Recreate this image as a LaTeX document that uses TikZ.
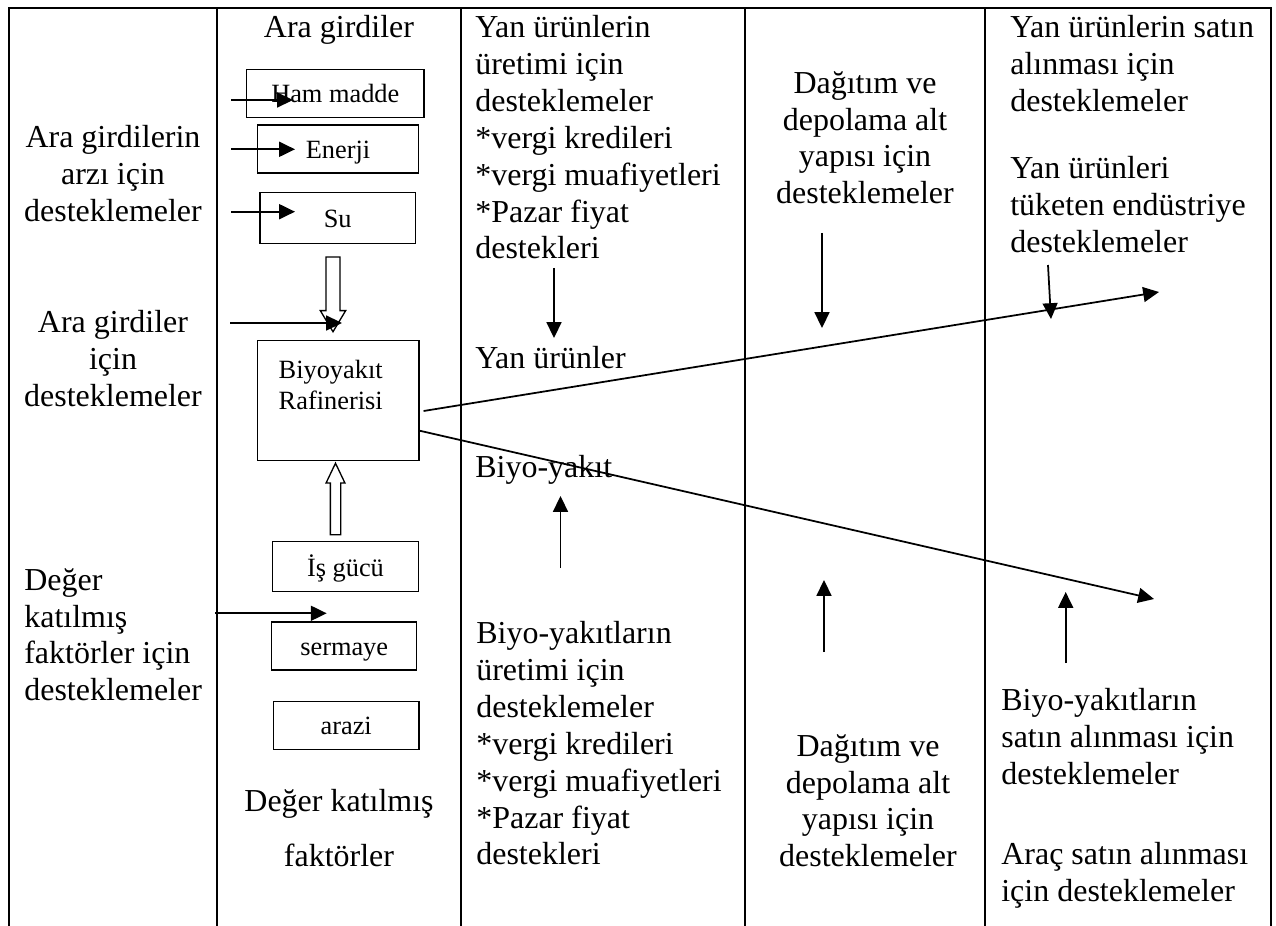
\documentclass[tikz,border=0pt]{standalone}
\usepackage{fontspec}
\setmainfont{Liberation Serif}
\usetikzlibrary{positioning, arrows.meta, shapes.arrows, calc}
\newcommand{\cellfont}{\fontsize{18.2}{21}\selectfont}
\newcommand{\boxfont}{\fontsize{15}{18}\selectfont}

\begin{document}
\begin{tikzpicture}[
  x=0.02cm, y=-0.02cm,
  >={Triangle[length=9pt, width=8.5pt]},
  grid/.style={line width=1.1pt},
  flow/.style={->, line width=1pt},
  cell/.style={inner sep=0pt, font=\cellfont},
  inbox/.style={draw, line width=0.75pt, inner sep=0pt, font=\boxfont,
                align=center, minimum height=0.96cm, text height=14pt, text depth=3pt},
  hollow/.style={draw, fill=white, line width=0.75pt, single arrow, anchor=tip},
]
  \useasboundingbox (0,0) rectangle (1276,926);

  % Table frame and column lines
  \draw[grid] (9,926) |- (1271,8) -- (1271,926);
  \foreach \xc in {217, 461, 745, 985}
    \draw[grid] (\xc,8) -- (\xc,926);

  % Column 1: supports for inputs and factors
  \node[cell, anchor=north, align=center] (araArz) at (113,125)
    {Ara girdilerin\\arzı için\\desteklemeler};
  \node[cell, anchor=north, align=center] (araDest) at (113,310)
    {Ara girdiler\\için\\desteklemeler};
  \node[cell, anchor=north west, align=left] (degerDest) at (24,568)
    {Değer\\katılmış\\faktörler için\\desteklemeler};

  % Column 2: inputs, refinery, factors
  \node[cell, anchor=north] (araTitle) at (339,15) {Ara girdiler};
  \node[inbox, minimum width=3.55cm] (ham) at (335.3,93.3) {Ham madde};
  \node[inbox, minimum width=3.23cm] (enerji) at (338,149) {Enerji};
  \node[inbox, minimum width=3.11cm, minimum height=1.01cm] (su) at (337.7,218) {Su};
  \node[inbox, minimum width=3.23cm, minimum height=2.4cm,
        label={[font=\boxfont, align=center, inner sep=0pt, anchor=north,
                xshift=-0.15cm, yshift=-0.39cm]north:{Biyoyakıt\\Rafinerisi}}]
        (raf) at (338.2,400.7) {};
  \node[inbox, minimum width=2.91cm, minimum height=1cm] (isgucu) at (345.5,566.7) {İş gücü};
  \node[inbox, minimum width=2.9cm] (sermaye) at (344.2,646) {sermaye};
  \node[inbox, minimum width=2.91cm] (arazi) at (346.2,725.2) {arazi};
  \node[cell, anchor=north, align=center] (degerTitle) at (339,789)
    {Değer katılmış\\[10pt]faktörler};

  % Hollow arrows into the refinery
  \node[hollow, shape border rotate=270, minimum height=1.494cm, inner sep=0.127cm,
        single arrow head extend=0.113cm, single arrow tip angle=62] (feed) at (333,333) {};
  \node[hollow, shape border rotate=90, minimum height=1.432cm, inner sep=0.09cm,
        single arrow head extend=0.086cm, single arrow tip angle=51] (labour) at (335.5,461.7) {};

  % Column 3: production
  \node[cell, anchor=north west, align=left] (yanUretim) at (475,15)
    {Yan ürünlerin\\üretimi için\\desteklemeler\\*vergi kredileri\\*vergi muafiyetleri\\*Pazar fiyat\\destekleri};
  \node[cell, anchor=north west] (yanUrun) at (475,346) {Yan ürünler};
  \node[cell, anchor=north west] (biyoYakit) at (475,455) {Biyo-yakıt};
  \node[cell, anchor=north west, align=left] (biyoUretim) at (476,621)
    {Biyo-yakıtların\\üretimi için\\desteklemeler\\*vergi kredileri\\*vergi muafiyetleri\\*Pazar fiyat\\destekleri};

  % Column 4: distribution
  \node[cell, anchor=north, align=center] (dagitimUst) at (865,71)
    {Dağıtım ve\\depolama alt\\yapısı için\\desteklemeler};
  \node[cell, anchor=north, align=center] (dagitimAlt) at (868,734)
    {Dağıtım ve\\depolama alt\\yapısı için\\desteklemeler};

  % Column 5: purchase
  \node[cell, anchor=north west, align=left] (yanSatin) at (1010,15)
    {Yan ürünlerin satın\\alınması için\\desteklemeler};
  \node[cell, anchor=north west, align=left] (yanEndustri) at (1010,156)
    {Yan ürünleri\\tüketen endüstriye\\desteklemeler};
  \node[cell, anchor=north west, align=left] (biyoSatin) at (1001,688)
    {Biyo-yakıtların\\satın alınması için\\desteklemeler};
  \node[cell, anchor=north west, align=left] (aracSatin) at (1001,842)
    {Araç satın alınması\\için desteklemeler};

  % Free ends of the support arrows
  \coordinate (hamS) at (231,100);      \coordinate (hamT) at (293,100);
  \coordinate (enerjiS) at (231,149.3); \coordinate (enerjiT) at (295,149.3);
  \coordinate (suS) at (231,211.7);     \coordinate (suT) at (295,211.7);
  \coordinate (rafS) at (230,323);      \coordinate (rafT) at (342,323);
  \coordinate (faktS) at (215,613.3);   \coordinate (faktT) at (326.7,613.3);
  \coordinate (yanS) at (554,268);      \coordinate (yanT) at (554,338);
  \coordinate (biyoS) at (560.5,568);   \coordinate (biyoT) at (560.5,496);
  \coordinate (dagS) at (822,233);      \coordinate (dagT) at (822,328);
  \coordinate (dagAS) at (824,652);     \coordinate (dagAT) at (824,580);
  \coordinate (endS) at (1048,265);     \coordinate (endT) at (1051,319);
  \coordinate (satS) at (1065.7,663);   \coordinate (satT) at (1065.7,592);
  \coordinate (yanEnd) at (1159,292);
  \coordinate (biyoEnd) at (1154,599);

  % Support arrows
  \draw[flow] (hamS) -- (hamT);
  \draw[flow] (enerjiS) -- (enerjiT);
  \draw[flow] (suS) -- (suT);
  \draw[flow] (rafS) -- (rafT);
  \draw[flow] (faktS) -- (faktT);
  \draw[flow] (yanS) -- (yanT);
  \draw[flow] (biyoS) -- (biyoT);
  \draw[flow] (dagS) -- (dagT);
  \draw[flow] (dagAS) -- (dagAT);
  \draw[flow] (endS) -- (endT);
  \draw[flow] (satS) -- (satT);

  % Output flows from the refinery
  \draw[flow] ($(raf.east)+(4,10.3)$) -- (yanEnd);
  \draw[flow] ($(raf.east)+(0,30)$) -- (biyoEnd);
\end{tikzpicture}
\end{document}
